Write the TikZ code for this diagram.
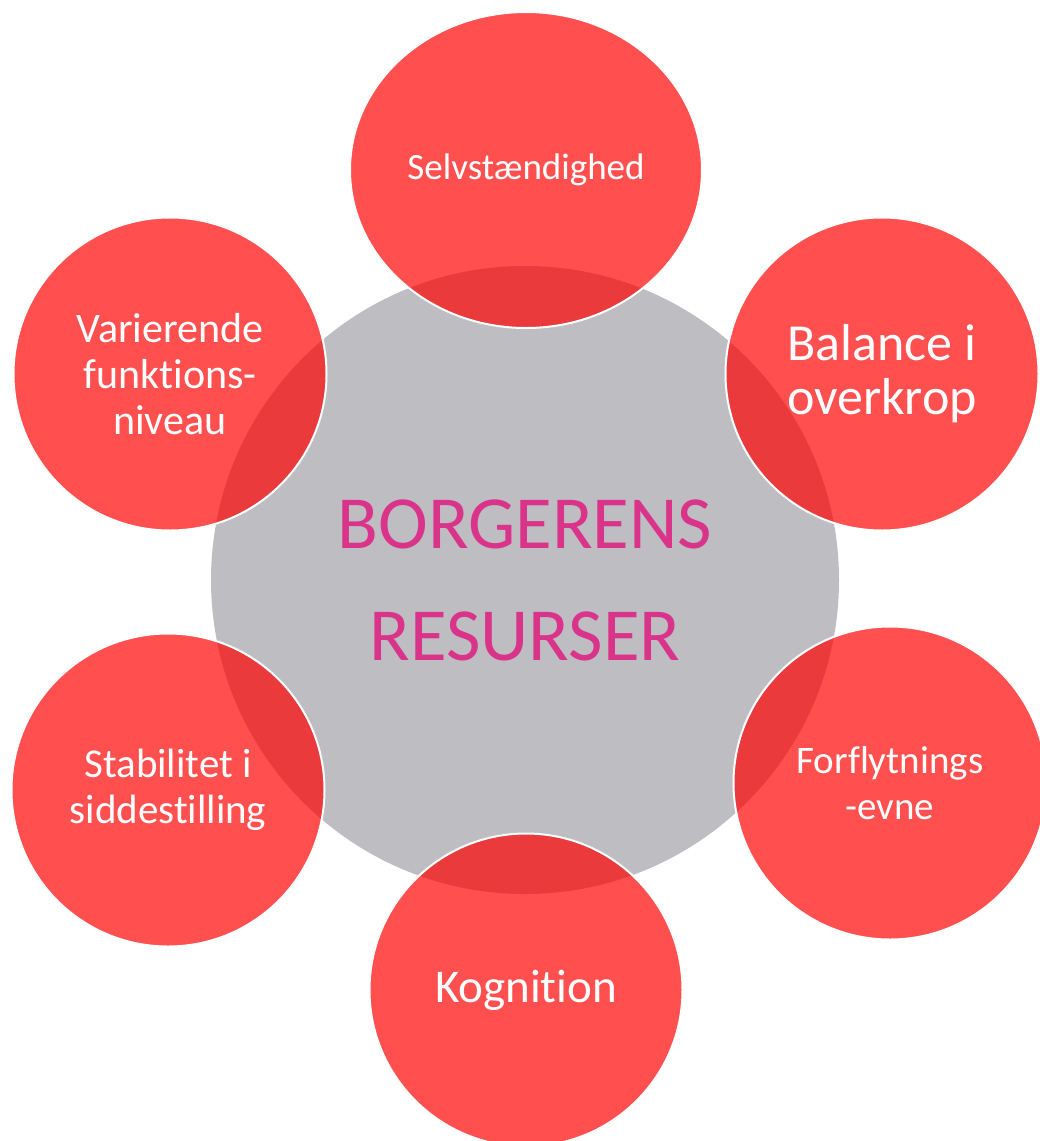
\documentclass[tikz,border=0pt]{standalone}
\usepackage{fontspec}
\setmainfont[Ligatures=NoCommon]{Carlito}
\usetikzlibrary{shapes.geometric}
\definecolor{hubgrey}{RGB}{190,189,194}
\definecolor{hubpink}{RGB}{218,52,138}

\tikzset{
  hub/.style={circle,fill=hubgrey,minimum size=628pt,inner sep=0pt,text=hubpink,align=center},
  res/.style={circle,fill=red,fill opacity=0.69,text opacity=1,draw=white,draw opacity=1,line width=2pt,minimum size=313pt,inner sep=0pt,text=white,align=center}
}

\begin{document}
\begin{tikzpicture}[x=1pt,y=-1pt]
\useasboundingbox (0,0) rectangle (1040,1141);

\node[hub,font=\fontsize{75}{112}\selectfont] (hub) at (525,580) {BORGERENS\\RESURSER};

\node[res,ellipse,minimum width=352pt,minimum height=316pt,font=\fontsize{37}{44}\selectfont] (selv) at (526,170) {Selvstændighed};
\node[res,font=\fontsize{52}{54}\selectfont] (balance) at (882,374) {Balance i\\overkrop};
\node[res,font=\fontsize{39}{46}\selectfont] (forflyt) at (890,783) {Forflytnings\\-evne};
\node[res,font=\fontsize{47}{56}\selectfont] (kogn) at (526,990) {Kognition};
\node[res,font=\fontsize{41}{46}\selectfont] (stab) at (168,790) {Stabilitet i\\siddestilling};
\node[res,font=\fontsize{42}{46}\selectfont] (vari) at (170,374) {Varierende\\funktions-\\niveau};
\end{tikzpicture}
\end{document}
